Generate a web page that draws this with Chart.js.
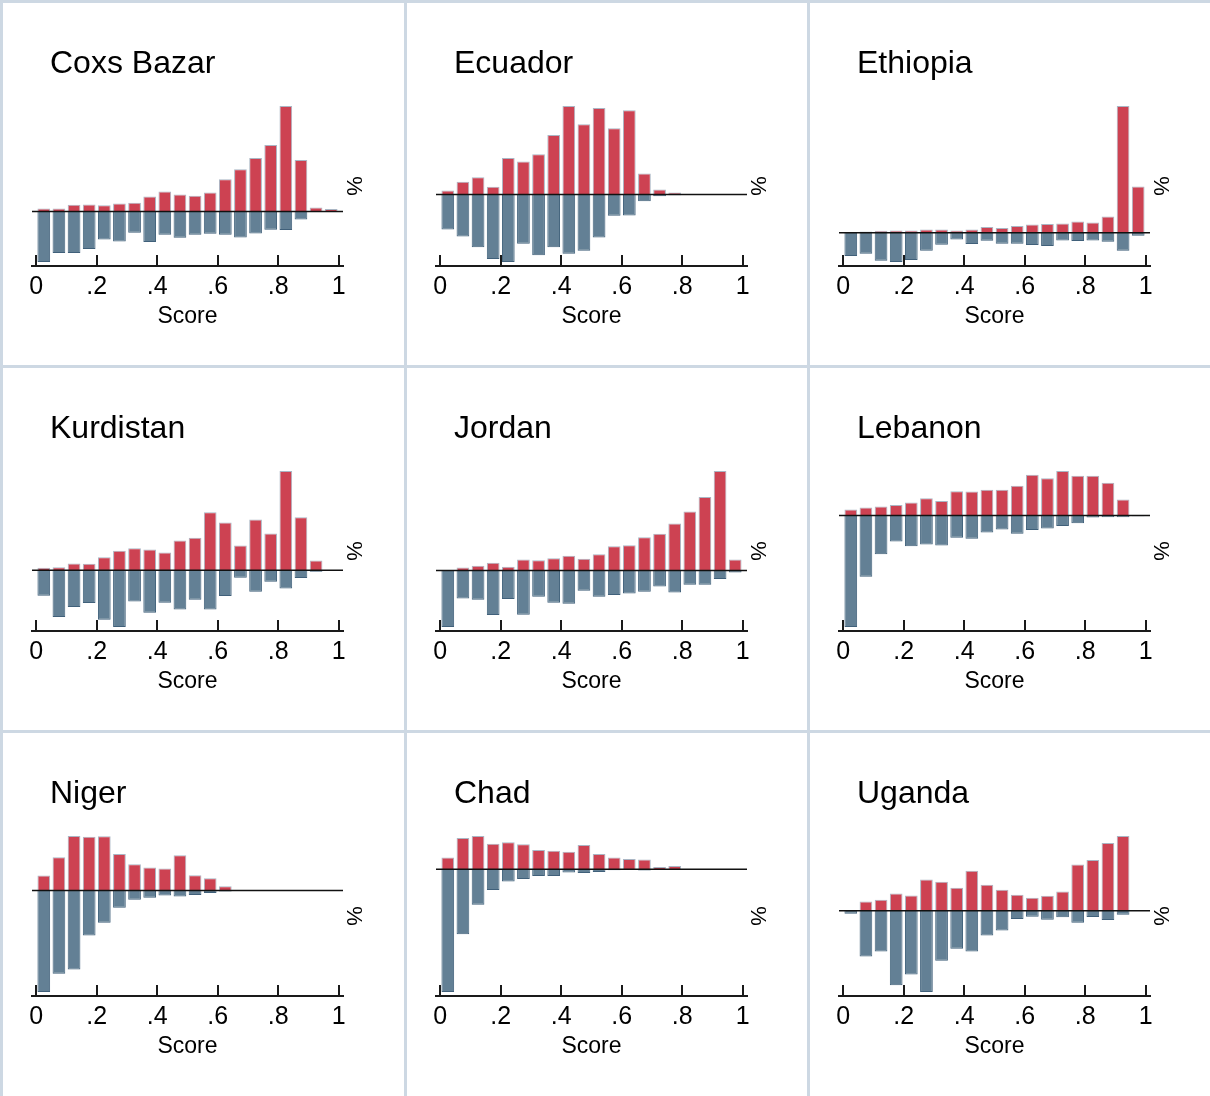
<!DOCTYPE html>
<html lang="en">
<head>
<meta charset="UTF-8" />
<title>Score distributions</title>
<script src="https://cdn.jsdelivr.net/npm/chart.js"></script>
<style>
  body { margin: 0; background: #fff; }
  .grid { position: relative; width: 1210px; height: 1096px; overflow: hidden; }
  .panel {
    position: absolute;
    box-sizing: border-box;
    border-left: 3px solid #cdd8e3;
    border-top: 3px solid #cdd8e3;
  }
  .panel h2 {
    position: absolute;
    left: 47px;
    top: 43px;
    margin: 0;
    font: normal 32px/32px "Liberation Sans", Arial, Helvetica, sans-serif;
    color: #000;
  }
  .panel canvas { position: absolute; left: 0; top: 0; }
</style>
</head>
<body>
<div class="grid" id="grid"></div>
<script>
// bin centres (width .05) and x tick labels
const binCenters = [0.025, 0.075, 0.125, 0.175, 0.225, 0.275, 0.325, 0.375, 0.425, 0.475,
                    0.525, 0.575, 0.625, 0.675, 0.725, 0.775, 0.825, 0.875, 0.925, 0.975];
const tickValues = [0, 0.2, 0.4, 0.6, 0.8, 1];
const tickLabels = ["0", ".2", ".4", ".6", ".8", "1"];

const titles = ["Coxs Bazar", "Ecuador", "Ethiopia", "Kurdistan", "Jordan", "Lebanon", "Niger", "Chad", "Uganda"];

// upper (red) and lower (blue) histograms
const coxsUp = [9, 9, 20, 21, 19, 24, 26, 45, 60, 51, 47, 57, 97, 127, 161, 200, 317, 155, 12, 7];
const coxsDown = [-152, -125, -125, -113, -84, -90, -64, -92, -70, -79, -70, -67, -70, -78, -66, -55, -56, -24, -2, 0];

const ecuadorUp = [12, 38, 52, 23, 110, 99, 121, 179, 266, 211, 260, 199, 253, 63, 15, 6, 0, 0, 0, 0];
const ecuadorDown = [-105, -126, -159, -194, -203, -148, -183, -159, -178, -169, -129, -64, -63, -20, -5, -2, 0, 0, 0, 0];

const ethiopiaUp = [0, 4, 6, 7, 7, 10, 10, 7, 10, 17, 14, 20, 25, 26, 28, 34, 31, 49, 381, 139];
const ethiopiaDown = [-70, -63, -84, -88, -82, -54, -36, -20, -34, -24, -33, -33, -37, -40, -23, -25, -23, -27, -54, -9];

const kurdistanUp = [7, 9, 20, 19, 39, 58, 66, 62, 53, 89, 97, 174, 143, 74, 152, 110, 298, 159, 29, 0];
const kurdistanDown = [-77, -141, -111, -99, -149, -171, -94, -128, -98, -118, -89, -118, -78, -23, -65, -35, -55, -24, -5, -2];

const jordanUp = [0, 9, 14, 23, 11, 33, 31, 37, 44, 35, 49, 73, 76, 100, 110, 141, 177, 221, 299, 33];
const jordanDown = [-170, -84, -88, -134, -86, -133, -79, -97, -100, -61, -79, -74, -69, -64, -48, -66, -43, -43, -26, -6];

const lebanonUp = [18, 24, 27, 32, 39, 52, 44, 73, 72, 78, 78, 90, 123, 112, 134, 120, 120, 99, 48, 0];
const lebanonDown = [-335, -184, -116, -78, -92, -87, -90, -67, -70, -51, -42, -55, -43, -39, -31, -23, -6, -5, -5, -2];

const nigerUp = [45, 100, 164, 162, 163, 110, 79, 69, 66, 106, 46, 37, 13, 2, 0, 0, 0, 0, 0, 0];
const nigerDown = [-305, -250, -237, -135, -97, -52, -28, -22, -15, -18, -13, -7, -3, -1, 0, 0, 0, 0, 0, 0];

const chadUp = [35, 94, 100, 77, 81, 75, 58, 56, 53, 73, 46, 35, 31, 29, 7, 10, 1, 0, 0, 0];
const chadDown = [-369, -195, -107, -62, -37, -29, -20, -20, -10, -11, -8, -3, -2, -4, -1, -1, 0, 0, 0, 0];

const ugandaUp = [0, 28, 33, 52, 46, 94, 87, 69, 120, 78, 63, 48, 39, 45, 58, 139, 153, 204, 225, 2];
const ugandaDown = [-9, -138, -123, -225, -192, -245, -151, -115, -123, -75, -60, -25, -18, -27, -20, -36, -19, -28, -12, -1];

const ups = [coxsUp, ecuadorUp, ethiopiaUp, kurdistanUp, jordanUp, lebanonUp, nigerUp, chadUp, ugandaUp];
const downs = [coxsDown, ecuadorDown, ethiopiaDown, kurdistanDown, jordanDown, lebanonDown, nigerDown, chadDown, ugandaDown];

Chart.defaults.font.family = '"Liberation Sans", Arial, Helvetica, sans-serif';
Chart.defaults.color = "#000";

// zero line and inward tick marks
const marks = {
  id: "marks",
  afterDatasetsDraw(chart) {
    const { ctx, chartArea, scales } = chart;
    const y0 = scales.y.getPixelForValue(0);
    ctx.save();
    ctx.strokeStyle = "#111";
    ctx.lineWidth = 1.5;
    ctx.beginPath();
    ctx.moveTo(chartArea.left, y0);
    ctx.lineTo(chartArea.right, y0);
    ctx.stroke();
    ctx.lineWidth = 2;
    ctx.strokeStyle = "#1a1a1a";
    ctx.beginPath();
    tickValues.forEach((v) => {
      const px = Math.round(scales.x.getPixelForValue(v));
      ctx.moveTo(px, chartArea.bottom);
      ctx.lineTo(px, chartArea.bottom - 11);
    });
    ctx.stroke();
    ctx.restore();
  },
};

const lefts = [0, 404, 807], widths = [404, 403, 403];
const tops = [0, 365, 730], heights = [365, 365, 366];
const grid = document.getElementById("grid");

titles.forEach((name, i) => {
  const col = i % 3, row = Math.floor(i / 3);
  const panel = document.createElement("div");
  panel.className = "panel";
  panel.style.left = lefts[col] + "px";
  panel.style.top = tops[row] + "px";
  panel.style.width = widths[col] + "px";
  panel.style.height = heights[row] + "px";
  const h = document.createElement("h2");
  h.textContent = name;
  const canvas = document.createElement("canvas");
  canvas.width = 400;
  canvas.height = 362;
  panel.appendChild(canvas);
  panel.appendChild(h);
  grid.appendChild(panel);

  const up = ups[i], down = downs[i];
  const yMax = Math.max(...up);
  const yLow = -Math.min(...down);
  const yMin = -(yLow + (yMax + yLow) * 0.0256);

  new Chart(canvas, {
    type: "bar",
    data: {
      labels: binCenters,
      datasets: [
        {
          data: up,
          backgroundColor: "#cd4252",
          borderColor: "#aab6c4",
          borderWidth: 1,
          barPercentage: 0.84,
          categoryPercentage: 1,
        },
        {
          data: down,
          backgroundColor: "#638095",
          borderColor: "#40607a",
          borderWidth: 1,
          barPercentage: 0.84,
          categoryPercentage: 1,
        },
      ],
    },
    options: {
      responsive: false,
      animation: false,
      layout: { padding: { left: 29, top: 103, right: 0, bottom: 0 } },
      plugins: { legend: { display: false }, tooltip: { enabled: false } },
      scales: {
        x: {
          type: "linear",
          min: -0.014,
          max: 1.014,
          offset: false,
          stacked: true,
          grid: { display: false, drawTicks: false, offset: false },
          border: { display: true, color: "#1a1a1a", width: 2 },
          afterBuildTicks: (s) => {
            s.ticks = tickValues.map((v) => ({ value: v }));
          },
          ticks: {
            padding: 6,
            font: { size: 25 },
            color: "#000",
            autoSkip: false,
            maxRotation: 0,
            callback: (v, idx) => tickLabels[idx],
          },
          title: {
            display: true,
            text: "Score",
            font: { size: 23 },
            color: "#000",
            padding: { top: 0, bottom: 35 },
          },
          afterFit: (s) => { s.height = 99; },
        },
        y: {
          position: "right",
          stacked: true,
          min: yMin,
          max: yMax,
          grid: { display: false, drawTicks: false },
          border: { display: false },
          ticks: { display: false },
          title: {
            display: true,
            text: "%",
            font: { size: 22 },
            color: "#000",
            padding: { top: 37, bottom: 0 },
          },
          afterFit: (s) => { s.width = 60; },
        },
      },
    },
    plugins: [marks],
  });
});
</script>
</body>
</html>
